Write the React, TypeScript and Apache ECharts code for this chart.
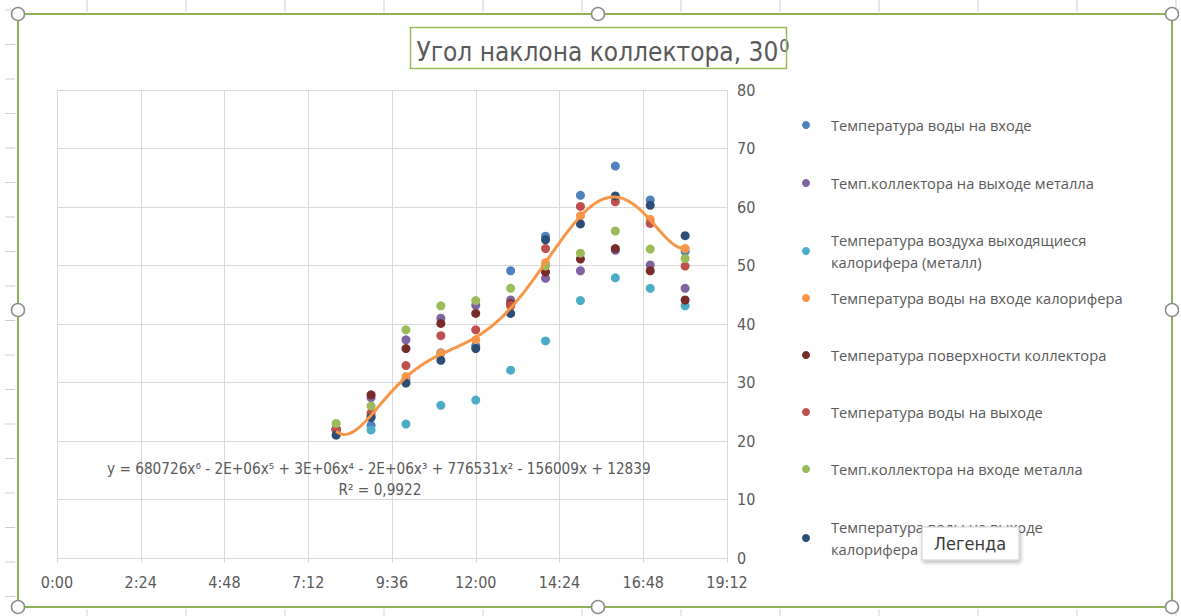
import React, { useEffect, useRef } from "react";
import * as echarts from "echarts";

const HOURS = [8, 9, 10, 11, 12, 13, 14, 15, 16, 17, 18];

const SERIES_NAMES = [
  "Температура воды на входе",
  "Темп.коллектора на выходе металла",
  "Температура воздуха выходящиеся калорифера (металл)",
  "Температура воды на входе калорифера",
  "Температура поверхности коллектора",
  "Температура воды на выходе",
  "Темп.коллектора на входе металла",
  "Температура воды на выходе калорифера",
];

const waterIn = [22, 22.7, 30.5, 35.1, 36.3, 49.1, 55, 62, 67, 61.2, 52.4];
const collectorOutMetal = [22, 27.4, 37.3, 41, 43.2, 44.1, 47.8, 49.1, 52.6, 50.1, 46.1];
const airOutHeater = [22, 21.9, 22.9, 26.1, 27, 32.1, 37.1, 44, 47.9, 46.1, 43.1];
const waterInHeater = [21.7, 24.3, 31, 35, 37.3, 43, 50.5, 58.5, 61.5, 57.9, 52.9];
const collectorSurface = [22, 27.9, 35.8, 40.1, 41.8, 43.5, 48.9, 51.1, 52.9, 49.1, 44.1];
const waterOut = [22, 24.8, 32.9, 38, 39, 43.2, 52.9, 60.1, 60.9, 57.2, 49.9];
const collectorInMetal = [23, 26, 39, 43.1, 44, 46.1, 49.9, 52.1, 55.9, 52.8, 51.2];
const waterOutHeater = [21, 24, 29.9, 33.8, 35.8, 41.8, 54.4, 57.1, 61.9, 60.3, 55.1];

const SERIES_VALUES = [
  waterIn,
  collectorOutMetal,
  airOutHeater,
  waterInHeater,
  collectorSurface,
  waterOut,
  collectorInMetal,
  waterOutHeater,
];

const COLORS = ["#4F81BD", "#8064A2", "#4BACC6", "#F79646", "#772C2A", "#C0504D", "#9BBB59", "#2C4D75"];

const LEGEND_LABELS = [
  "Температура воды на входе",
  "Темп.коллектора на выходе металла",
  "Температура воздуха выходящиеся\nкалорифера (металл)",
  "Температура воды на входе калорифера",
  "Температура поверхности коллектора",
  "Температура воды на выходе",
  "Темп.коллектора на входе металла",
  "Температура воды на выходе\nкалорифера",
];

const EQUATION = "y = 680726x⁶ - 2E+06x⁵ + 3E+06x⁴ - 2E+06x³ + 776531x² - 156009x + 12839";
const R2 = "R² = 0,9922";
const TITLE = "Угол наклона коллектора, 30";

// least-squares polynomial trendline (order 6) of the heater-inlet series
function polyFit(xs: number[], ys: number[], order: number) {
  const n = order + 1;
  const A: number[][] = [];
  for (let i = 0; i < n; i++) {
    A.push(new Array(n + 1).fill(0));
  }
  for (let k = 0; k < xs.length; k++) {
    const t = (xs[k] - 13) / 5;
    for (let i = 0; i < n; i++) {
      for (let j = 0; j < n; j++) A[i][j] += Math.pow(t, i + j);
      A[i][n] += Math.pow(t, i) * ys[k];
    }
  }
  for (let c = 0; c < n; c++) {
    let p = c;
    for (let r = c + 1; r < n; r++) if (Math.abs(A[r][c]) > Math.abs(A[p][c])) p = r;
    const tmp = A[c];
    A[c] = A[p];
    A[p] = tmp;
    for (let r = 0; r < n; r++) {
      if (r === c) continue;
      const f = A[r][c] / A[c][c];
      for (let j = c; j <= n; j++) A[r][j] -= f * A[c][j];
    }
  }
  const coef = A.map((row, i) => row[n] / row[i]);
  return (x: number) => {
    const t = (x - 13) / 5;
    let s = 0;
    for (let i = 0; i < n; i++) s += coef[i] * Math.pow(t, i);
    return s;
  };
}

function fmtTime(v: number) {
  const m = Math.round(v * 60);
  return `${Math.floor(m / 60)}:${String(m % 60).padStart(2, "0")}`;
}

export default function App() {
  const ref = useRef<HTMLDivElement>(null);
  useEffect(() => {
    if (!ref.current) return;
    const chart = echarts.init(ref.current, undefined, { renderer: "svg" });
    const fit = polyFit(HOURS, waterInHeater, 6);
    const trend: number[][] = [];
    for (let i = 0; i <= 200; i++) {
      const x = HOURS[0] + ((HOURS[HOURS.length - 1] - HOURS[0]) * i) / 200;
      trend.push([x, fit(x)]);
    }
    const axisFont = "'Liberation Sans Narrow', 'DejaVu Sans Condensed', Roboto, sans-serif";
    const textColor = "#595959";
    const gridColor = "#D9D9D9";

    // y of the first text line of each legend entry
    const legendRows = [125, 183, 240, 298, 355, 412, 469, 527];
    const legends = SERIES_NAMES.map((name, i) => ({
      data: [name],
      left: 797,
      top: legendRows[i] - 16,
      orient: "vertical",
      icon: "circle",
      itemWidth: 40,
      itemHeight: 8,
      selectedMode: false,
      formatter: () => LEGEND_LABELS[i],
      textStyle: {
        color: textColor,
        fontFamily: "'Open Sans', sans-serif",
        fontSize: 14.7,
        lineHeight: 22,
      },
    }));

    const scatter = SERIES_NAMES.map((name, i) => ({
      name,
      type: "scatter",
      symbol: "circle",
      symbolSize: 9,
      itemStyle: { color: COLORS[i], opacity: 1 },
      data: HOURS.map((h, k) => [h, SERIES_VALUES[i][k]]),
      z: 2 + i,
    }));

    const handles = [
      [18, 14], [598, 14], [1172, 14],
      [18, 310], [1172, 310],
      [18, 607], [598, 607], [1172, 607],
    ];
    const bgTicks: any[] = [];
    for (let y = 10; y < 616; y += 34.5) {
      bgTicks.push({ type: "line", shape: { x1: 5, y1: y, x2: 15, y2: y }, style: { stroke: "#CFCFCF", lineWidth: 1 }, z: 0 });
    }
    for (let x = 87; x < 1181; x += 99) {
      bgTicks.push({ type: "line", shape: { x1: x, y1: 0, x2: x, y2: 12 }, style: { stroke: "#CFCFCF", lineWidth: 1 }, z: 0 });
      bgTicks.push({ type: "line", shape: { x1: x, y1: 609, x2: x, y2: 616 }, style: { stroke: "#CFCFCF", lineWidth: 1 }, z: 0 });
    }

    chart.setOption({
      animation: false,
      backgroundColor: "#FFFFFF",
      title: {
        text: TITLE + "{s|0}",
        left: 598,
        top: 31,
        textAlign: "center",
        textStyle: {
          color: textColor,
          fontFamily: axisFont,
          fontSize: 26,
          fontWeight: "normal",
          lineHeight: 32,
          rich: {
            s: { fontSize: 18, fontFamily: axisFont, color: textColor, verticalAlign: "top", lineHeight: 32, padding: [0, 0, 10, 1] },
          },
        },
      },
      legend: legends,
      grid: { left: 57, right: 454, top: 90, bottom: 58, containLabel: false },
      xAxis: {
        type: "value",
        min: 0,
        max: 19.2,
        interval: 2.4,
        axisLine: { show: true, lineStyle: { color: gridColor } },
        axisTick: { show: true, length: 5, lineStyle: { color: gridColor } },
        splitLine: { show: true, lineStyle: { color: gridColor, width: 1 } },
        axisLabel: { formatter: fmtTime, color: textColor, fontFamily: axisFont, fontSize: 16, margin: 16 },
      },
      yAxis: {
        type: "value",
        position: "right",
        min: 0,
        max: 80,
        interval: 10,
        axisLine: { show: true, lineStyle: { color: gridColor } },
        axisTick: { show: true, length: 5, lineStyle: { color: gridColor } },
        splitLine: { show: true, lineStyle: { color: gridColor, width: 1 } },
        axisLabel: { color: textColor, fontFamily: axisFont, fontSize: 16, margin: 10 },
      },
      series: [
        ...scatter,
        {
          name: "Полиномиальная (Температура воды на входе калорифера)",
          type: "line",
          data: trend,
          showSymbol: false,
          symbol: "none",
          lineStyle: { color: "#F79646", width: 3 },
          z: 20,
        },
      ],
      graphic: [
        ...bgTicks,
        {
          type: "rect",
          shape: { x: 18, y: 14, width: 1154, height: 593 },
          style: { fill: "none", stroke: "#8DB255", lineWidth: 2 },
          z: 50,
        },
        {
          type: "rect",
          shape: { x: 410.5, y: 27.5, width: 376, height: 41 },
          style: { fill: "none", stroke: "#9BBB59", lineWidth: 1.5 },
          z: 50,
        },
        {
          type: "text",
          left: 107,
          top: 461,
          style: { text: EQUATION, fill: textColor, font: `15.2px ${axisFont}` },
          z: 30,
        },
        {
          type: "text",
          x: 380,
          y: 482,
          style: { text: R2, fill: textColor, font: `15.2px ${axisFont}`, align: "center" },
          z: 30,
        },
        ...handles.map(([cx, cy]) => ({
          type: "circle",
          shape: { cx, cy, r: 6.5 },
          style: { fill: "#FFFFFF", stroke: "#8C8C8C", lineWidth: 1.5 },
          z: 60,
        })),
        {
          type: "rect",
          shape: { x: 922, y: 527, width: 97, height: 33 },
          style: {
            fill: "#FFFFFF",
            stroke: "#CFCFCF",
            lineWidth: 1,
            shadowBlur: 4,
            shadowOffsetX: 1,
            shadowOffsetY: 2,
            shadowColor: "rgba(0,0,0,0.3)",
          },
          z: 100,
        },
        {
          type: "text",
          x: 970,
          y: 543,
          style: { text: "Легенда", fill: "#3A3A3A", font: `18px ${axisFont}`, align: "center", verticalAlign: "middle" },
          z: 101,
        },
      ],
    });
    return () => chart.dispose();
  }, []);
  return <div ref={ref} style={{ position: "fixed", left: 0, top: 0, width: 1181, height: 616 }} />;
}
